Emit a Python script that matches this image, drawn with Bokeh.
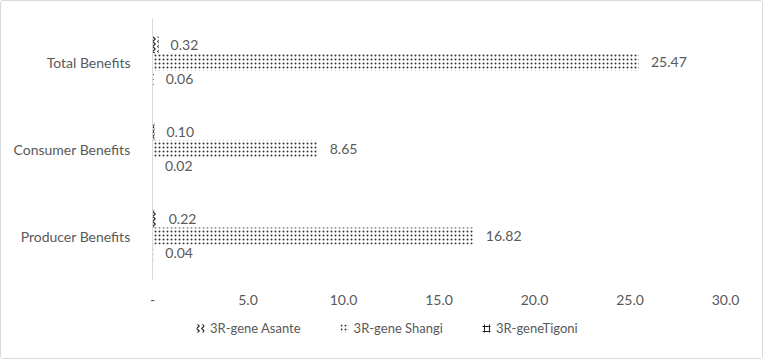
from bokeh.plotting import figure
from bokeh.layouts import column
from bokeh.models import ColumnDataSource, FactorRange, Range1d, Legend, LegendItem, FixedTicker
from bokeh.transform import dodge
from bokeh.core.properties import value
from bokeh.embed import file_html
from bokeh.resources import INLINE

categories = ["Producer Benefits", "Consumer Benefits", "Total Benefits"]
series_names = ["3R-gene Asante", "3R-gene Shangi", "3R-geneTigoni"]
asante = [0.22, 0.10, 0.32]
shangi = [16.82, 8.65, 25.47]
tigoni = [0.04, 0.02, 0.06]
tick_values = [0, 5, 10, 15, 20, 25, 30]
tick_labels = ["-", "5.0", "10.0", "15.0", "20.0", "25.0", "30.0"]

FONT = "Lato"
GRAY = "#595959"
FS = "14px"

styles_series = [
    dict(hatch_pattern="vertical_wave", hatch_color="#222222", hatch_scale=5, hatch_weight=1.2),
    dict(hatch_pattern="dot", hatch_color="#333333", hatch_scale=4, hatch_weight=0.8),
    dict(hatch_pattern="cross", hatch_color="#222222", hatch_scale=5, hatch_weight=1),
]

src = ColumnDataSource(dict(
    cat=categories,
    asante=asante, shangi=shangi, tigoni=tigoni,
    asante_lbl=["%.2f" % v for v in asante],
    shangi_lbl=["%.2f" % v for v in shangi],
    tigoni_lbl=["%.2f" % v for v in tigoni],
))

p = figure(width=761, height=308, y_range=FactorRange(factors=categories),
           x_range=Range1d(0, 30), output_backend="svg", toolbar_location=None,
           min_border_left=151, min_border_right=37, min_border_top=17, min_border_bottom=30)
p.outline_line_color = None
p.xgrid.grid_line_color = None
p.ygrid.grid_line_color = None

H = 0.195
off = 0.195
cols = ["asante", "shangi", "tigoni"]
offs = [off, 0, -off]
for col, o, st in zip(cols, offs, styles_series):
    p.hbar(y=dodge("cat", o, range=p.y_range), right=col, left=0, height=H, source=src,
           fill_color="white", line_color=None, **st)
    p.text(x=col, y=dodge("cat", o, range=p.y_range), text=col + "_lbl", source=src, x_offset=12,
           text_align="left", text_baseline="middle", text_color=GRAY,
           text_font=value(FONT), text_font_size=FS)

p.xaxis.ticker = FixedTicker(ticks=tick_values)
p.xaxis.major_label_overrides = {v: l for v, l in zip(tick_values, tick_labels)}
p.xaxis.axis_line_color = None
p.xaxis.major_tick_line_color = None
p.xaxis.minor_tick_line_color = None
p.xaxis.major_label_text_color = GRAY
p.xaxis.major_label_text_font = FONT
p.xaxis.major_label_text_font_size = FS
p.xaxis.major_label_standoff = 9

p.yaxis.axis_line_color = "#d9d9d9"
p.yaxis.major_tick_line_color = None
p.yaxis.minor_tick_line_color = None
p.yaxis.major_label_text_color = GRAY
p.yaxis.major_label_text_font = FONT
p.yaxis.major_label_text_font_size = FS
p.yaxis.major_label_standoff = 16

# legend strip (its frame is aligned with the main frame by the column layout)
q = figure(width=761, height=49, x_range=Range1d(0, 1), y_range=Range1d(0, 1),
           output_backend="svg", toolbar_location=None,
           min_border_left=0, min_border_right=0, min_border_top=0, min_border_bottom=0)
q.axis.visible = False
q.grid.grid_line_color = None
q.outline_line_color = None
items = []
for name, st in zip(series_names, styles_series):
    # zero-area placeholder renderer; only used for the legend swatch
    r = q.hbar(y=[0.5], right=[0], left=[0], height=0.0, fill_color="white", line_color=None, **st)
    items.append(LegendItem(label=name, renderers=[r]))
legend = Legend(items=items, orientation="horizontal", location=(43, 22),
                label_text_color=GRAY, label_text_font=FONT, label_text_font_size="13px",
                glyph_width=10, glyph_height=10, spacing=38, padding=4, margin=0,
                border_line_color=None, background_fill_alpha=0, label_standoff=5)
q.add_layout(legend, "center")

layout = column(p, q, spacing=0,
                styles={"border": "1px solid #d9d9d9", "border-radius": "3px"})

open("out.html", "w").write(file_html(layout, INLINE))
